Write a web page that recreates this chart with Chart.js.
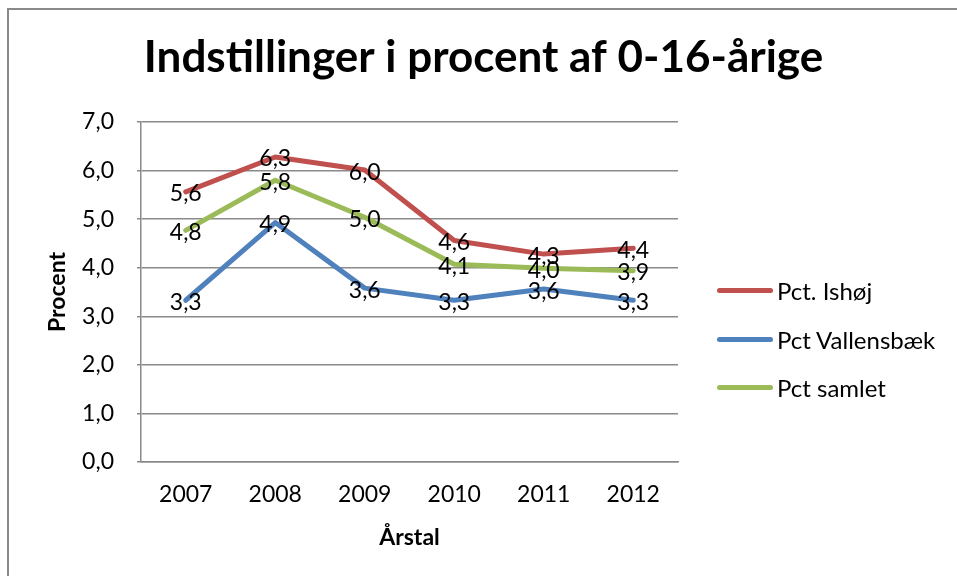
<!DOCTYPE html>
<html><head><meta charset="utf-8">
<script src="https://cdn.jsdelivr.net/npm/chart.js@4.4.1/dist/chart.umd.min.js"></script>
<style>
html,body{margin:0;padding:0;background:#fff;}
#wrap{position:relative;width:957px;height:576px;overflow:hidden;}
#frame{position:absolute;left:7px;top:8px;width:1000px;height:600px;border-top:2px solid #8a8a8a;border-left:2px solid #8a8a8a;}
canvas{position:absolute;left:0;top:0;}
#legend{position:absolute;left:0;top:0;width:957px;height:576px;font-family:Lato,sans-serif;font-size:24px;color:#000;}
.item{position:absolute;left:717px;height:30px;display:flex;align-items:center;white-space:nowrap;}
.swatch{width:56px;height:5px;border-radius:3px;margin-right:4px;}
</style></head><body>
<div id="wrap"><div id="frame"></div><canvas id="c" width="957" height="576"></canvas><div id="legend"></div></div>
<script>
const years = ['2007', '2008', '2009', '2010', '2011', '2012'];
const ishoj = [5.56, 6.28, 6.01, 4.56, 4.28, 4.40];
const vallensbaek = [3.33, 4.93, 3.58, 3.33, 3.56, 3.33];
const samlet = [4.77, 5.80, 5.04, 4.07, 3.99, 3.94];
const seriesNames = ['Pct. Ishøj', 'Pct Vallensbæk', 'Pct samlet'];
const seriesColors = ['#C0504D', '#4F81BD', '#9BBB59'];
const yMin = 0, yMax = 7, yStep = 1;
const titleText = 'Indstillinger i procent af 0-16-årige';
const yTitle = 'Procent';
const xTitle = 'Årstal';

const gridColor = '#8a8a8a';
const fmt = v => Number(v).toFixed(1).replace('.', ',');

const valueLabels = {
  id: 'valueLabels',
  afterDatasetsDraw(chart) {
    const ctx = chart.ctx;
    ctx.save();
    ctx.font = '23px Lato';
    ctx.fillStyle = '#000';
    ctx.textAlign = 'center';
    ctx.textBaseline = 'middle';
    chart.data.datasets.forEach((ds, i) => {
      const meta = chart.getDatasetMeta(i);
      meta.data.forEach((pt, j) => {
        ctx.fillText(fmt(ds.data[j]), pt.x, pt.y + 2);
      });
    });
    ctx.restore();
  }
};

function build() {
  const seriesData = [ishoj, vallensbaek, samlet];
  const datasets = seriesData.map((d, i) => ({
    label: seriesNames[i],
    data: d,
    borderColor: seriesColors[i],
    backgroundColor: seriesColors[i],
    borderWidth: 5,
    borderCapStyle: 'round',
    borderJoinStyle: 'round',
    pointRadius: 0,
    tension: 0,
    fill: false
  }));

  new Chart(document.getElementById('c'), {
    type: 'line',
    data: { labels: years, datasets },
    plugins: [valueLabels],
    options: {
      responsive: false,
      animation: false,
      devicePixelRatio: 1,
      layout: { padding: { top: 0, right: 0, bottom: 20, left: 10 } },
      plugins: {
        legend: { display: false },
        tooltip: { enabled: false },
        title: {
          display: true, text: titleText, color: '#000',
          font: { family: 'Lato', size: 44, weight: 'bold' },
          padding: { top: 31.6, bottom: 37.6 }
        }
      },
      scales: {
        x: {
          type: 'category', offset: true,
          grid: { display: true, drawOnChartArea: false, drawTicks: false, color: gridColor },
          border: { display: true, color: gridColor, width: 1.5 },
          ticks: { color: '#000', font: { family: 'Lato', size: 23 }, padding: 19, maxRotation: 0, autoSkip: false },
          title: { display: true, text: xTitle, color: '#000', font: { family: 'Lato', size: 23, weight: 'bold' }, padding: { top: 0, bottom: 4.2 } },
          afterFit(s) { s.height = 94; }
        },
        y: {
          min: yMin, max: yMax,
          grid: { color: gridColor, lineWidth: 1.5, tickLength: 4, drawTicks: true },
          border: { display: true, color: gridColor, width: 1.5 },
          ticks: { stepSize: yStep, color: '#000', font: { family: 'Lato', size: 23 }, padding: 23, callback: v => fmt(v) },
          title: { display: true, text: yTitle, color: '#000', font: { family: 'Lato', size: 23, weight: 'bold' }, padding: { top: 34.2, bottom: 0 } },
          afterFit(s) { s.width = 131; }
        },
        y2: {
          position: 'right', display: true,
          grid: { display: false }, border: { display: false }, ticks: { display: false },
          afterFit(s) { s.width = 279; }
        }
      }
    }
  });

  const legend = document.getElementById('legend');
  const legendY = [290, 339, 387];
  datasets.forEach((ds, i) => {
    const item = document.createElement('div');
    item.className = 'item';
    item.style.top = (legendY[i] - 15) + 'px';
    const sw = document.createElement('span');
    sw.className = 'swatch';
    sw.style.background = ds.borderColor;
    const tx = document.createElement('span');
    tx.textContent = ds.label;
    item.appendChild(sw);
    item.appendChild(tx);
    legend.appendChild(item);
  });
}

Promise.all([
  document.fonts.load('23px Lato'),
  document.fonts.load('bold 44px Lato'),
  document.fonts.load('bold 23px Lato')
]).then(build, build);
</script>
</body></html>
